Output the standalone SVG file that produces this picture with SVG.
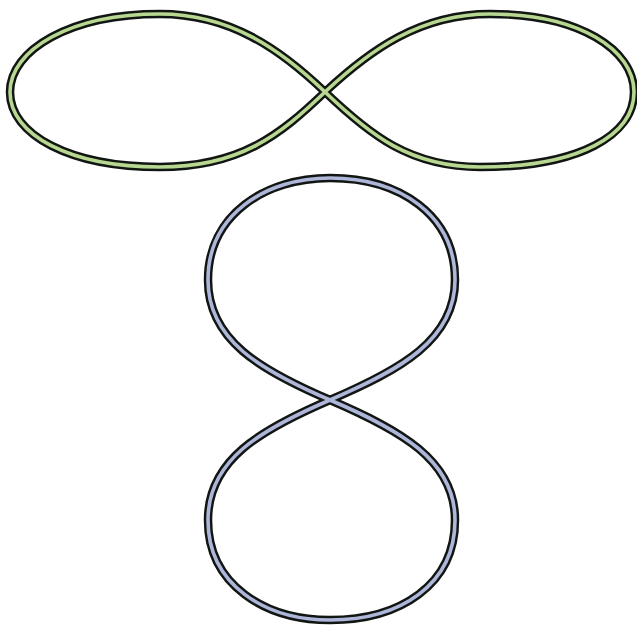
<svg xmlns="http://www.w3.org/2000/svg" width="637" height="625" viewBox="0 0 637 625">
<defs>
<style>
.outline{fill:none;stroke:#111613;stroke-width:8.5;stroke-linejoin:round}
.green{fill:none;stroke:#b8d892;stroke-width:3.6}
.blue{fill:none;stroke:#aeb6da;stroke-width:3.6}
</style>
<path id="h8" d="M325,92 C370,50 420,14 490,14 C580,14 634,50 634,92 C634,135 580,167 480,167 C410,167 370,135 325,92 C280,49 230,14 160,14 C70,14 10,50 10,92 C10,135 70,167 160,167 C240,167 280,135 325,92 Z"/>
<path id="v8" d="M330,400 C260,370 208,340 208,280 C208,215 265,178 330,178 C400,178 455,215 455,280 C455,340 400,370 330,400 C260,430 208,460 208,520 C208,585 265,620 330,620 C400,620 455,585 455,520 C455,460 400,430 330,400 Z"/>
</defs>
<rect width="637" height="625" fill="#ffffff"/>
<g id="horizontal-figure-eight">
<use href="#h8" class="outline"/>
<use href="#h8" class="green"/>
</g>
<g id="vertical-figure-eight">
<use href="#v8" class="outline"/>
<use href="#v8" class="blue"/>
</g>
</svg>
